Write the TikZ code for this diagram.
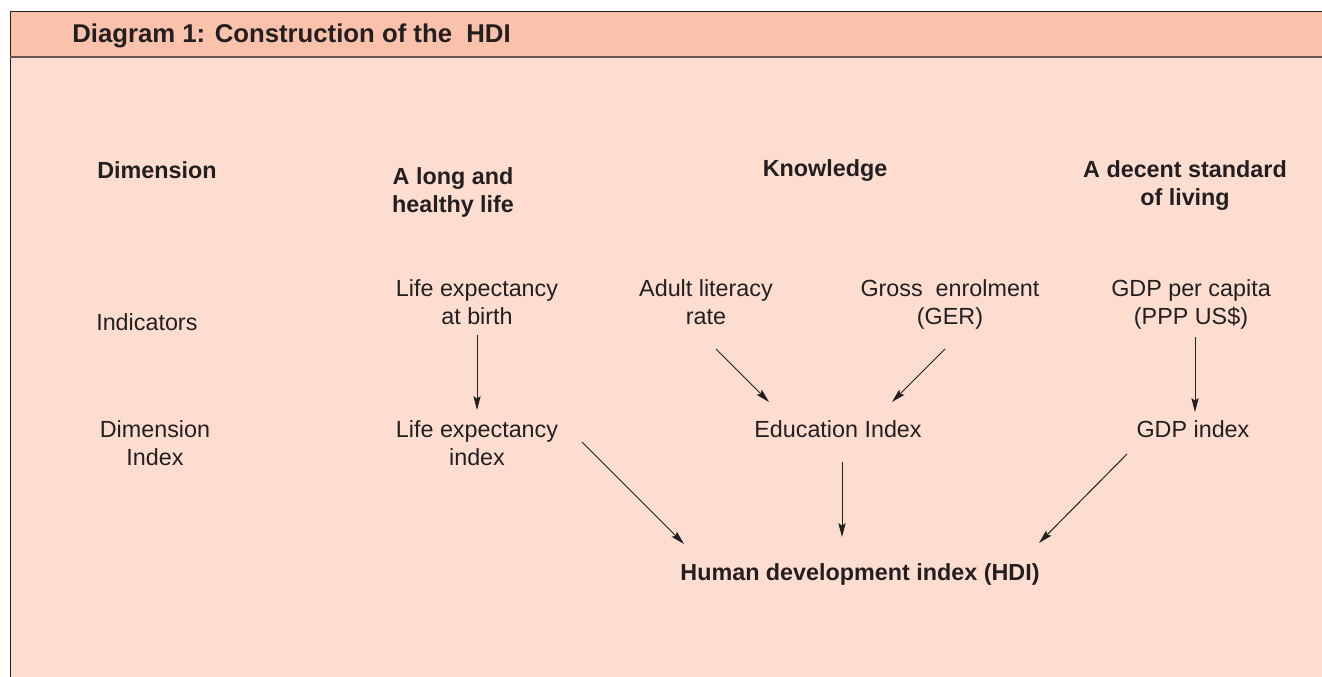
\documentclass[tikz,border=0pt]{standalone}
\usepackage{fontspec}
\setmainfont{Liberation Sans}
\usetikzlibrary{arrows.meta}
\definecolor{headfill}{HTML}{FAC2AA}
\definecolor{bodyfill}{HTML}{FDDDD0}
\definecolor{inkcolor}{HTML}{231F20}
\definecolor{rulecolor}{HTML}{6A5650}
\tikzset{
	headstyle/.style={inner sep=0pt,align=center,text=inkcolor,font=\fontsize{17.5}{21}\selectfont\bfseries},
	plainstyle/.style={inner sep=0pt,align=center,text=inkcolor,font=\fontsize{17.5}{21}\selectfont},
	arrowstyle/.style={draw=inkcolor,line width=0.75pt,-{Stealth[length=10.5pt,width=5.5pt,inset=2pt]}}
}

\begin{document}
\begin{tikzpicture}[x=0.75pt,y=-0.75pt]
	\useasboundingbox (0,0) rectangle (1322,677);
	\fill[bodyfill] (10,57) rectangle (1322,677);
	\fill[headfill] (10,11) rectangle (1322,57);
	\draw[draw=inkcolor,line width=1.2pt] (10.5,677) -- (10.5,11.5) -- (1322,11.5);
	\draw[draw=rulecolor,line width=1.5pt] (10,57.5) -- (1322,57.5);
	\node[headstyle,anchor=base west,font=\fontsize{19.3}{23}\selectfont\bfseries] (title) at (72,43) {Diagram 1: Construction of the\ \ HDI};
	% dimensions
	\node[headstyle,anchor=base west] (dimhead) at (97,179) {Dimension};
	\node[headstyle,anchor=base] (healthhead) at (453,213) {A long and\\healthy life};
	\node[headstyle,anchor=base] (knowhead) at (825,177) {Knowledge};
	\node[headstyle,anchor=base] (livinghead) at (1185,206) {A decent standard\\of living};
	% indicators
	\node[plainstyle,anchor=base west] (indic) at (96,331) {Indicators};
	\node[plainstyle,anchor=base] (birth) at (477,325) {Life expectancy\\at birth};
	\node[plainstyle,anchor=base] (literacy) at (706,325) {Adult literacy\\rate};
	\node[plainstyle,anchor=base] (enrol) at (950,325) {Gross\ \ enrolment\\(GER)};
	\node[plainstyle,anchor=base] (gdppc) at (1191,325) {GDP per capita\\(PPP US\$)};
	% dimension index
	\node[plainstyle,anchor=base] (dimidx) at (155,465) {Dimension\\Index};
	\node[plainstyle,anchor=base] (leidx) at (477,465) {Life expectancy\\index};
	\node[plainstyle,anchor=base] (eduidx) at (838,437) {Education Index};
	\node[plainstyle,anchor=base] (gdpidx) at (1193,437) {GDP index};
	\node[headstyle,anchor=base] (hdi) at (860,580) {Human development index (HDI)};
	% arrows
	\draw[arrowstyle] ([shift={(0,10)}]birth.base) -- ([shift={(0,-55)}]leidx.base);
	\draw[arrowstyle] ([shift={(10,24)}]literacy.base) -- ([shift={(-69,-35)}]eduidx.base);
	\draw[arrowstyle] ([shift={(-5,24)}]enrol.base) -- ([shift={(54,-35)}]eduidx.base);
	\draw[arrowstyle] ([shift={(4,12)}]gdppc.base) -- ([shift={(2,-25)}]gdpidx.base);
	\draw[arrowstyle] ([shift={(105,-23)}]leidx.base) -- ([shift={(-176,-36)}]hdi.base);
	\draw[arrowstyle] ([shift={(4,25)}]eduidx.base) -- ([shift={(-18,-43)}]hdi.base);
	\draw[arrowstyle] ([shift={(-66,17)}]gdpidx.base) -- ([shift={(179,-37)}]hdi.base);
\end{tikzpicture}
\end{document}
